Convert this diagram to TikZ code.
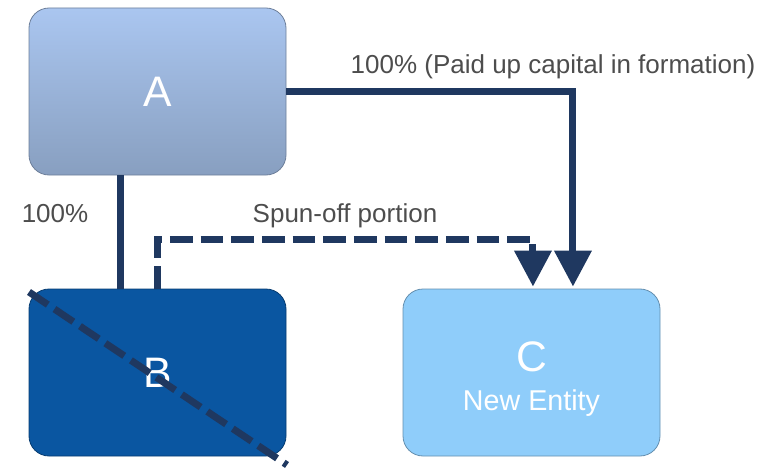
\documentclass[tikz,border=0pt]{standalone}
\usepackage{fontspec}
\setmainfont{Liberation Sans}
\usetikzlibrary{arrows.meta,calc}
\definecolor{navy}{RGB}{31,56,96}
\definecolor{labelgray}{RGB}{77,77,77}
\definecolor{atop}{RGB}{170,198,240}
\definecolor{abot}{RGB}{136,159,192}
\definecolor{bfill}{RGB}{10,86,161}
\definecolor{cfill}{RGB}{143,205,250}
\begin{document}
\begin{tikzpicture}[x=0.75pt,y=0.75pt,
    entity/.style={rounded corners=15pt, minimum width=192.75pt, minimum height=125.25pt,
      inner sep=0pt, text=white, align=center, font=\fontsize{32}{36}\selectfont},
    link/.style={draw=navy, line width=5.25pt},
    tip/.style={-{Triangle[width=27pt,length=27pt]}},
    cut/.style={dash pattern=on 17pt off 6pt},
    lbl/.style={text=labelgray, font=\fontsize{19.5}{23}\selectfont}]
  \useasboundingbox (0,0) rectangle (776,469);
  % boxes
  \node [entity, top color=atop, bottom color=abot, draw=abot!80!black, line width=0.6pt] (A) at (157.5,377.5) {A};
  \node [entity, fill=bfill, draw=bfill!70!black, line width=0.6pt] (B) at (157.5,96.5) {B};
  \node [entity, fill=cfill, draw=cfill!70!black, line width=0.6pt] (C) at (531.5,96.5)
    {\raisebox{-6.75pt}[\height][\depth]{\begin{tabular}{@{}c@{}}C\\[-6.5pt]{\fontsize{21.5}{24}\selectfont New Entity}\end{tabular}}};
  % links
  \draw [link] ([xshift=-28.1pt]A.south)--([xshift=-28.1pt]B.north);
  \draw [link, tip] (A.east) -| ([xshift=31.1pt,yshift=1.5pt]C.north);
  \draw [link, tip, cut] (B.north)--++(0,49) -| ([xshift=1.1pt,yshift=1.5pt]C.north);
  \draw [navy, line width=5.25pt, cut] (29,177)--(287,4);
  % labels
  \node [lbl] (paid) at (553,402) {100\% (Paid up capital in formation)};
  \node [lbl] (own) at (55,255) {100\%};
  \node [lbl] (spun) at (345,253) {Spun-off portion};
\end{tikzpicture}
\end{document}
